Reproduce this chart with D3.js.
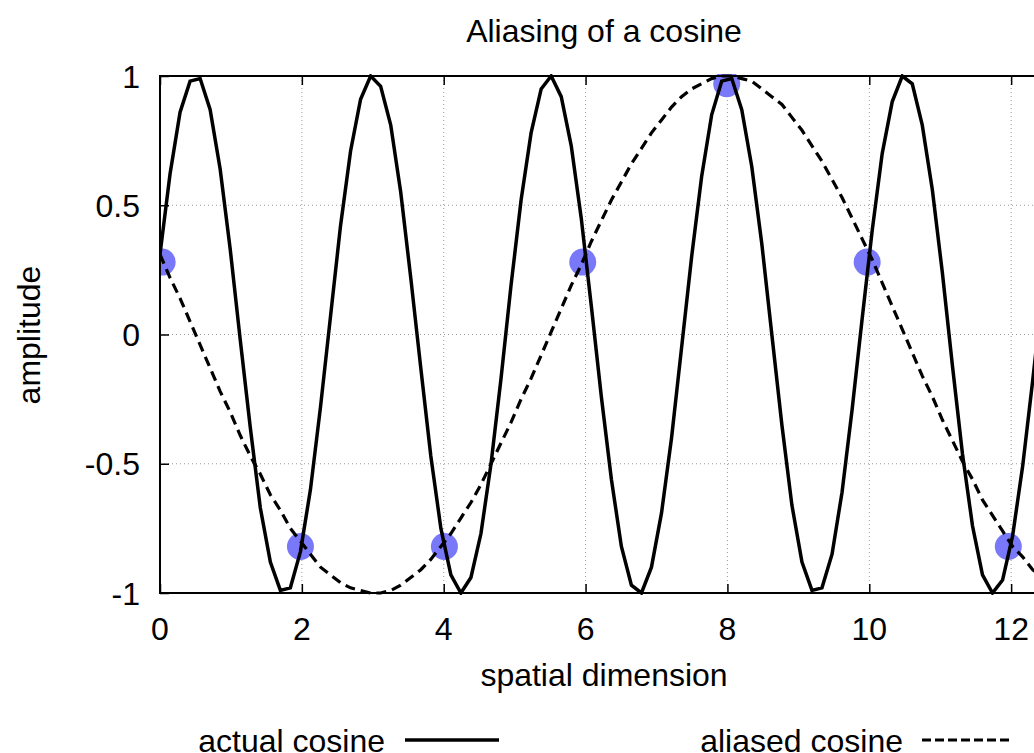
<!DOCTYPE html>
<html>
<head>
<meta charset="utf-8">
<script src="https://cdn.jsdelivr.net/npm/d3@7"></script>
<style>
  body { margin: 0; background: #fff; }
  svg { display: block; font-family: "Liberation Sans", Arial, sans-serif; }
</style>
</head>
<body>
<svg id="chart" width="1034" height="753"></svg>
<script>
// curve samples (gnuplot style, 100 samples over 0..14, only visible part kept)
const sampleX = [
  0, 0.141, 0.283, 0.424, 0.566, 0.707, 0.848, 0.990, 1.131, 1.273,
  1.414, 1.556, 1.697, 1.838, 1.980, 2.121, 2.263, 2.404, 2.545, 2.687,
  2.828, 2.970, 3.111, 3.253, 3.394, 3.535, 3.677, 3.818, 3.960, 4.101,
  4.242, 4.384, 4.525, 4.667, 4.808, 4.949, 5.091, 5.232, 5.374, 5.515,
  5.657, 5.798, 5.939, 6.081, 6.222, 6.364, 6.505, 6.646, 6.788, 6.929,
  7.071, 7.212, 7.354, 7.495, 7.636, 7.778, 7.919, 8.061, 8.202, 8.343,
  8.485, 8.626, 8.768, 8.909, 9.051, 9.192, 9.333, 9.475, 9.616, 9.758,
  9.899, 10.040, 10.182, 10.323, 10.465, 10.606, 10.747, 10.889, 11.030, 11.172,
  11.313, 11.455, 11.596, 11.737, 11.879, 12.020, 12.162, 12.303, 12.444, 12.586
];

const actualCosine = [
  0.31, 0.62, 0.86, 0.98, 0.99, 0.87, 0.64, 0.33, -0.02, -0.36,
  -0.67, -0.88, -0.99, -0.98, -0.84, -0.60, -0.28, 0.07, 0.42, 0.71,
  0.91, 1.00, 0.96, 0.81, 0.55, 0.22, -0.13, -0.47, -0.75, -0.93,
  -1.00, -0.94, -0.77, -0.50, -0.17, 0.19, 0.52, 0.78, 0.95, 1.00,
  0.92, 0.73, 0.45, 0.11, -0.24, -0.56, -0.82, -0.97, -1.00, -0.90,
  -0.69, -0.40, -0.05, 0.30, 0.61, 0.85, 0.98, 0.99, 0.87, 0.65,
  0.35, 0.00, -0.35, -0.66, -0.88, -0.99, -0.98, -0.85, -0.61, -0.29,
  0.06, 0.40, 0.70, 0.90, 1.00, 0.97, 0.81, 0.56, 0.24, -0.12,
  -0.46, -0.74, -0.93, -1.00, -0.95, -0.78, -0.51, -0.18, 0.17, 0.51
];

const aliasedCosine = [
  0.31, 0.22, 0.14, 0.05, -0.04, -0.13, -0.22, -0.30, -0.39, -0.47,
  -0.54, -0.62, -0.68, -0.75, -0.80, -0.85, -0.90, -0.93, -0.96, -0.98,
  -0.99, -1.00, -1.00, -0.99, -0.97, -0.94, -0.91, -0.87, -0.82, -0.77,
  -0.71, -0.65, -0.58, -0.50, -0.42, -0.34, -0.25, -0.17, -0.08, 0.01,
  0.10, 0.19, 0.27, 0.36, 0.44, 0.52, 0.59, 0.66, 0.72, 0.78,
  0.83, 0.88, 0.92, 0.95, 0.97, 0.99, 1.00, 1.00, 0.99, 0.98,
  0.95, 0.92, 0.89, 0.84, 0.79, 0.73, 0.67, 0.60, 0.53, 0.45,
  0.37, 0.29, 0.20, 0.11, 0.02, -0.07, -0.16, -0.24, -0.33, -0.41,
  -0.49, -0.56, -0.64, -0.70, -0.76, -0.82, -0.86, -0.91, -0.94, -0.97
];

// sampled points (every 2 units)
const pointX = [0.03, 1.98, 4.01, 5.96, 7.99, 9.97, 11.96];
const pointY = [0.28, -0.82, -0.82, 0.28, 0.97, 0.28, -0.82];

const xTicks = [0, 2, 4, 6, 8, 10, 12, 14];
const yTicks = [-1, -0.5, 0, 0.5, 1];
const yTickLabels = ['-1', '-0.5', '0', '0.5', '1'];

const svg = d3.select('#chart');
const plotLeft = 160, plotRight = 1153, plotTop = 76, plotBottom = 593;

const x = d3.scaleLinear().domain([0, 14]).range([plotLeft, plotRight]);
const y = d3.scaleLinear().domain([-1, 1]).range([plotBottom, plotTop]);

svg.append('defs').append('clipPath').attr('id', 'plot-clip')
  .append('rect')
  .attr('x', plotLeft).attr('y', plotTop - 2)
  .attr('width', plotRight - plotLeft).attr('height', plotBottom - plotTop + 4);

// grid
const grid = svg.append('g').attr('stroke', '#9a9a9a').attr('stroke-width', 1)
  .attr('stroke-dasharray', '1,3');
xTicks.forEach(t => {
  grid.append('line').attr('x1', x(t)).attr('x2', x(t)).attr('y1', plotTop).attr('y2', plotBottom);
});
yTicks.forEach(t => {
  grid.append('line').attr('x1', plotLeft).attr('x2', plotRight).attr('y1', y(t)).attr('y2', y(t));
});

// axes with inward ticks
const xAxisB = svg.append('g').attr('transform', `translate(0,${plotBottom})`)
  .call(d3.axisTop(x).tickValues(xTicks).tickSize(9).tickFormat(''));
const xAxisT = svg.append('g').attr('transform', `translate(0,${plotTop})`)
  .call(d3.axisBottom(x).tickValues(xTicks).tickSize(9).tickFormat(''));
const yAxisL = svg.append('g').attr('transform', `translate(${plotLeft},0)`)
  .call(d3.axisRight(y).tickValues(yTicks).tickSize(9).tickFormat(''));
[xAxisB, xAxisT, yAxisL].forEach(a => {
  a.select('.domain').remove();
  a.selectAll('line').attr('stroke', '#000').attr('stroke-width', 1.5);
});

// tick labels
svg.append('g').selectAll('text').data(xTicks).enter().append('text')
  .attr('x', d => x(d)).attr('y', plotBottom + 47)
  .attr('text-anchor', 'middle').attr('font-size', 32)
  .text(d => d);
svg.append('g').selectAll('text').data(yTicks).enter().append('text')
  .attr('x', 140).attr('y', d => y(d) + 11.5)
  .attr('text-anchor', 'end').attr('font-size', 32)
  .text((d, i) => yTickLabels[i]);

// sample points under the curves
const plot = svg.append('g').attr('clip-path', 'url(#plot-clip)');
plot.append('g').selectAll('circle').data(pointX).enter().append('circle')
  .attr('cx', d => x(d)).attr('cy', (d, i) => y(pointY[i]))
  .attr('r', 13.5).attr('fill', '#7878f8');

const line = d3.line().x((d, i) => x(sampleX[i])).y(d => y(d));
plot.append('path').datum(actualCosine)
  .attr('d', line).attr('fill', 'none')
  .attr('stroke', '#000').attr('stroke-width', 3.5).attr('stroke-linejoin', 'miter');
plot.append('path').datum(aliasedCosine)
  .attr('d', line).attr('fill', 'none')
  .attr('stroke', '#000').attr('stroke-width', 3.2).attr('stroke-dasharray', '10,6');

// border
svg.append('rect')
  .attr('x', plotLeft).attr('y', plotTop)
  .attr('width', plotRight - plotLeft).attr('height', plotBottom - plotTop)
  .attr('fill', 'none').attr('stroke', '#000').attr('stroke-width', 2);

// labels
svg.append('text').attr('x', 604).attr('y', 42)
  .attr('text-anchor', 'middle').attr('font-size', 32).text('Aliasing of a cosine');
svg.append('text').attr('x', 604).attr('y', 686)
  .attr('text-anchor', 'middle').attr('font-size', 32).text('spatial dimension');
svg.append('text')
  .attr('transform', 'translate(40,335) rotate(-90)')
  .attr('text-anchor', 'middle').attr('font-size', 32).text('amplitude');

// key
const key = svg.append('g');
key.append('text').attr('x', 385).attr('y', 752)
  .attr('text-anchor', 'end').attr('font-size', 32).text('actual cosine');
key.append('line').attr('x1', 405).attr('x2', 499).attr('y1', 740).attr('y2', 740)
  .attr('stroke', '#000').attr('stroke-width', 3.5);
key.append('text').attr('x', 903).attr('y', 752)
  .attr('text-anchor', 'end').attr('font-size', 32).text('aliased cosine');
key.append('line').attr('x1', 922).attr('x2', 1012).attr('y1', 740).attr('y2', 740)
  .attr('stroke', '#000').attr('stroke-width', 3.2).attr('stroke-dasharray', '9,4');
</script>
</body>
</html>
